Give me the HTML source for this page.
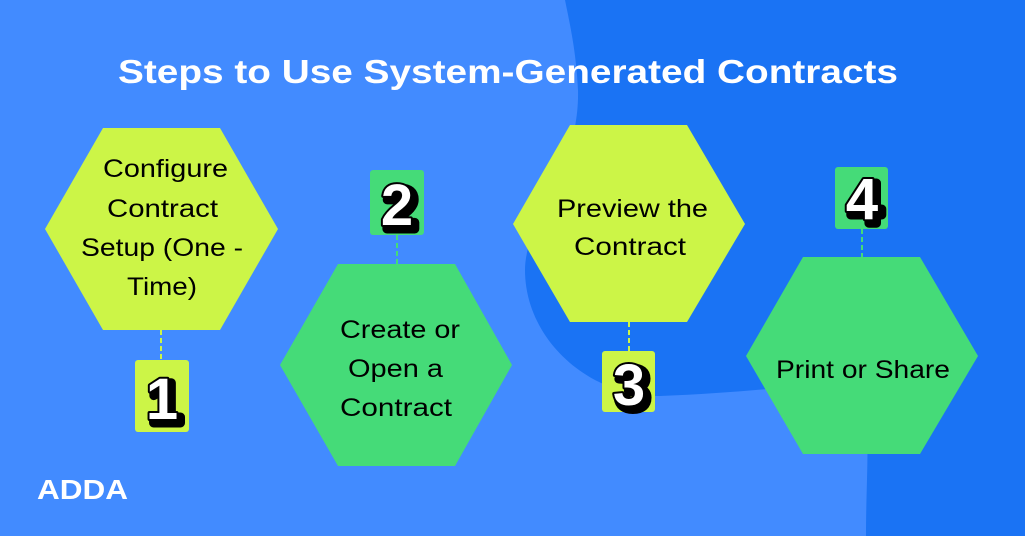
<!DOCTYPE html>
<html><head><style>
body{margin:0;width:1025px;height:536px;overflow:hidden;font-family:"Liberation Sans",sans-serif}
</style></head><body>
<svg width="1025" height="536" viewBox="0 0 1025 536" xmlns="http://www.w3.org/2000/svg">
<rect width="1025" height="536" fill="#428BFF"/>
<path d="M565 0 H1025 V536 H866 C866 470 872 420 860 382 C800 385 740 393 660 396 C590 397 525 340 525 270 C525 220 580 170 578 90 C576 50 570 25 565 0 Z" fill="#1A73F4"/>
<text x="118" y="83" textLength="780" lengthAdjust="spacingAndGlyphs" font-family="Liberation Sans" font-weight="bold" font-size="33" fill="#fff">Steps to Use System-Generated Contracts</text>
<g stroke-width="2" stroke-dasharray="5,3">
<line x1="161" y1="330" x2="161" y2="360" stroke="#CCF547"/>
<line x1="397" y1="235" x2="397" y2="264" stroke="#45DB78"/>
<line x1="629" y1="322" x2="629" y2="351" stroke="#CCF547"/>
<line x1="862" y1="229" x2="862" y2="257" stroke="#45DB78"/>
</g>
<polygon points="103,128 220,128 278,229 220,330 103,330 45,229" fill="#CCF547"/>
<polygon points="338,264 455,264 512,365 455,466 338,466 280,365" fill="#45DB78"/>
<polygon points="570,125 687,125 745,224 687,322 570,322 513,224" fill="#CCF547"/>
<polygon points="803,257 920,257 978,356 920,454 803,454 746,356" fill="#45DB78"/>
<rect x="135" y="360" width="54" height="72" rx="3" fill="#CCF547"/>
<rect x="370" y="170" width="54" height="65" rx="3" fill="#45DB78"/>
<rect x="602" y="351" width="53" height="61" rx="3" fill="#CCF547"/>
<rect x="835" y="167" width="53" height="62" rx="3" fill="#45DB78"/>
<g font-family="Liberation Sans" font-weight="900" font-size="58" text-anchor="middle" stroke-linejoin="round">
<text x="166" y="423" fill="#000" stroke="#000" stroke-width="9">1</text>
<text x="162" y="419" fill="#fff" stroke="#000" stroke-width="4" paint-order="stroke">1</text>
<text x="401" y="229" fill="#000" stroke="#000" stroke-width="9">2</text>
<text x="397" y="225" fill="#fff" stroke="#000" stroke-width="4" paint-order="stroke">2</text>
<text x="633" y="409" fill="#000" stroke="#000" stroke-width="9">3</text>
<text x="629" y="405" fill="#fff" stroke="#000" stroke-width="4" paint-order="stroke">3</text>
<text x="866" y="223" fill="#000" stroke="#000" stroke-width="9">4</text>
<text x="862" y="219" fill="#fff" stroke="#000" stroke-width="4" paint-order="stroke">4</text>
</g>
<g font-family="Liberation Sans" font-size="25" fill="#000">
<text x="103" y="177" textLength="125" lengthAdjust="spacingAndGlyphs">Configure</text>
<text x="107" y="217" textLength="111" lengthAdjust="spacingAndGlyphs">Contract</text>
<text x="81" y="256" textLength="162" lengthAdjust="spacingAndGlyphs">Setup (One -</text>
<text x="127" y="295" textLength="70" lengthAdjust="spacingAndGlyphs">Time)</text>
<text x="340" y="338" textLength="120" lengthAdjust="spacingAndGlyphs">Create or</text>
<text x="348" y="377" textLength="95" lengthAdjust="spacingAndGlyphs">Open a</text>
<text x="340" y="416" textLength="112" lengthAdjust="spacingAndGlyphs">Contract</text>
<text x="557" y="217" textLength="151" lengthAdjust="spacingAndGlyphs">Preview the</text>
<text x="574" y="255" textLength="112" lengthAdjust="spacingAndGlyphs">Contract</text>
<text x="776" y="378" textLength="174" lengthAdjust="spacingAndGlyphs">Print or Share</text>
</g>
<text x="37" y="499" textLength="91" lengthAdjust="spacingAndGlyphs" font-family="Liberation Sans" font-weight="bold" font-size="28" fill="#fff">ADDA</text>
</svg>
</body></html>
